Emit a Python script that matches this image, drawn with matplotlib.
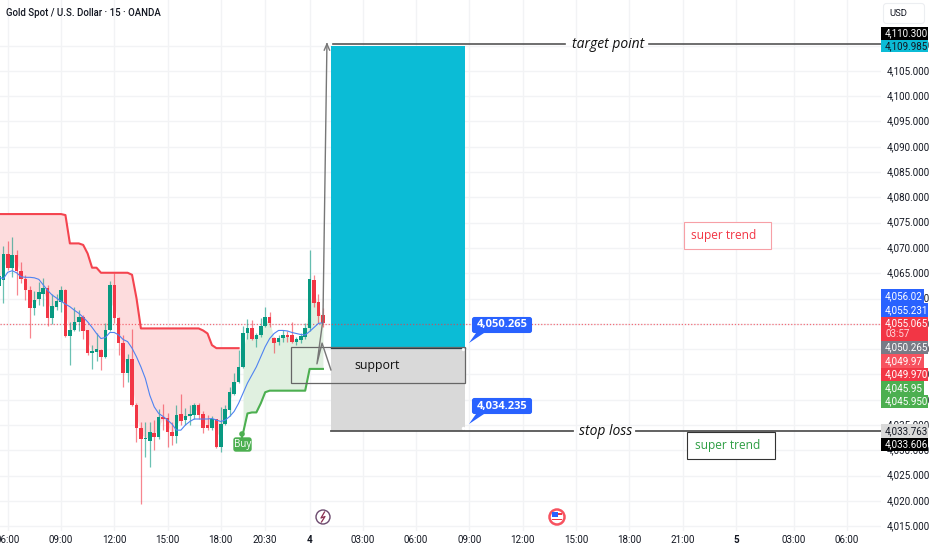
import matplotlib
matplotlib.use('Agg')
import matplotlib.pyplot as plt
from matplotlib.patches import Rectangle, FancyBboxPatch, Polygon, Circle
from matplotlib.transforms import ScaledTranslation

plt.rcParams['font.family'] = ['Open Sans', 'DejaVu Sans']
SCALE_FONT = ['Roboto', 'DejaVu Sans']

# Candles, 15 minute bars (first one is cut by the left edge)
opens = [4062.5, 4063.7, 4068.9, 4066.0, 4068.7, 4065.5, 4063.9, 4061.7, 4058.1, 4059.9, 4061.0,
         4062.0, 4056.2, 4058.4, 4059.4, 4061.7, 4052.6, 4053.7, 4055.4, 4056.4, 4053.7,
         4049.3, 4049.5, 4049.9, 4048.5, 4053.7, 4062.6, 4056.1, 4051.2, 4045.2, 4048.0,
         4039.0, 4034.4, 4032.3, 4031.9, 4033.4, 4032.7, 4036.5, 4036.4, 4033.7, 4032.9,
         4037.2, 4036.1, 4036.7, 4037.0, 4039.0, 4037.2, 4035.0, 4034.5, 4036.2, 4030.6,
         4035.2, 4038.0, 4041.1, 4043.6, 4046.4, 4053.1, 4054.1, 4052.1, 4052.8, 4054.6,
         4056.3, 4052.3, 4051.4, 4052.3, 4052.8, 4052.8, 4051.5, 4051.8, 4052.5, 4054.1,
         4063.7, 4059.3, 4056.7]
highs = [4067.0, 4070.3, 4071.3, 4072.2, 4069.6, 4067.2, 4064.7, 4062.5, 4061.4, 4063.3, 4064.0,
         4062.7, 4061.0, 4061.0, 4062.4, 4061.8, 4055.4, 4058.3, 4057.7, 4056.8, 4053.8,
         4050.8, 4053.1, 4050.0, 4055.2, 4063.5, 4065.0, 4056.4, 4052.8, 4049.1, 4053.9,
         4039.3, 4035.7, 4035.7, 4035.7, 4036.0, 4038.1, 4039.2, 4037.3, 4035.7, 4039.0,
         4041.1, 4038.3, 4039.0, 4039.3, 4039.3, 4037.7, 4037.0, 4036.7, 4036.3, 4038.6,
         4039.0, 4042.6, 4045.2, 4049.8, 4054.5, 4055.9, 4055.8, 4053.1, 4056.1, 4058.4,
         4057.4, 4052.5, 4052.8, 4053.7, 4053.5, 4055.4, 4052.5, 4053.1, 4055.1, 4069.6,
         4064.7, 4061.0, 4058.1]
lows = [4060.5, 4059.1, 4065.7, 4064.3, 4060.7, 4063.0, 4059.7, 4052.3, 4056.8, 4058.7, 4058.5,
        4054.5, 4055.0, 4057.7, 4057.4, 4052.5, 4046.9, 4053.5, 4053.5, 4052.0, 4048.9,
        4046.0, 4047.7, 4045.8, 4048.2, 4053.5, 4055.1, 4048.9, 4042.6, 4043.6, 4038.8,
        4031.7, 4019.5, 4028.6, 4026.8, 4030.1, 4032.2, 4034.0, 4030.6, 4031.1, 4031.4,
        4035.0, 4035.0, 4035.0, 4036.3, 4036.3, 4033.4, 4034.0, 4034.0, 4030.4, 4029.7,
        4035.0, 4036.7, 4040.9, 4043.3, 4046.2, 4052.1, 4051.8, 4050.5, 4052.5, 4054.3,
        4054.3, 4049.2, 4050.8, 4051.5, 4051.5, 4051.2, 4050.8, 4051.2, 4052.1, 4053.5,
        4058.4, 4055.1, 4054.3]
closes = [4064.5, 4068.9, 4066.1, 4068.7, 4065.5, 4063.9, 4061.6, 4058.1, 4059.7, 4061.2, 4062.0,
          4056.2, 4058.5, 4059.5, 4061.7, 4052.6, 4053.7, 4055.4, 4056.4, 4053.6, 4049.3,
          4049.6, 4050.1, 4048.5, 4053.7, 4062.6, 4056.1, 4051.2, 4045.2, 4048.0, 4039.0,
          4034.4, 4032.3, 4032.5, 4033.6, 4032.7, 4036.5, 4036.3, 4033.6, 4032.8, 4037.0,
          4035.8, 4036.7, 4037.2, 4039.0, 4037.0, 4034.4, 4034.4, 4036.2, 4030.6, 4035.3,
          4038.1, 4041.6, 4043.6, 4046.4, 4053.1, 4054.1, 4052.1, 4052.8, 4054.6, 4056.4,
          4055.1, 4051.3, 4052.3, 4052.8, 4052.4, 4051.5, 4052.0, 4052.6, 4054.1, 4063.9,
          4059.2, 4056.6, 4055.1]

# Super trend, red part then green part
trend_down = [4076.7, 4076.7, 4076.7, 4076.7, 4076.7, 4076.7, 4076.7, 4076.7, 4076.7, 4076.7, 4076.7,
              4076.7, 4076.7, 4076.7, 4076.7, 4076.5, 4070.9, 4070.9, 4070.9, 4070.6, 4068.9,
              4066.1, 4066.1, 4065.1, 4065.1, 4065.1, 4065.1, 4065.1, 4065.1, 4065.1, 4064.7,
              4060.1, 4054.1, 4054.1, 4054.1, 4054.1, 4054.1, 4054.1, 4054.1, 4054.1, 4054.1,
              4054.1, 4054.1, 4054.1, 4054.1, 4054.1, 4053.7, 4053.1, 4050.8, 4050.2, 4050.2,
              4050.2, 4050.2, 4050.2, 4050.2]
trend_up = [4033.4, 4037.3, 4037.5, 4037.5, 4039.3, 4041.5, 4041.8, 4041.8, 4041.8, 4041.8,
            4041.8, 4041.8, 4041.8, 4041.8, 4041.8, 4046.1, 4046.1, 4046.1, 4046.1]

# Blue moving average
ma_line = [4064.3, 4063.9, 4065.2, 4065.5, 4065.1, 4064.3, 4064.2, 4064.2, 4064.1, 4063.8, 4062.7,
           4061.6, 4060.7, 4060.1, 4059.5, 4058.9, 4058.4, 4057.7, 4057.1, 4056.3, 4055.4,
           4054.3, 4053.1, 4052.1, 4052.3, 4053.3, 4053.3, 4052.8, 4051.9, 4051.5, 4050.2,
           4048.5, 4046.5, 4044.2, 4040.9, 4038.6, 4037.3, 4036.7, 4036.0, 4035.2, 4034.0,
           4034.0, 4035.0, 4035.7, 4036.2, 4036.2, 4036.2, 4036.2, 4036.3, 4036.0, 4035.7,
           4036.0, 4036.7, 4037.7, 4039.3, 4041.3, 4043.3, 4044.9, 4046.5, 4048.5, 4050.5,
           4052.1, 4053.1, 4053.7, 4053.7, 4053.6, 4053.3, 4053.1, 4052.9, 4052.8, 4053.5,
           4054.3, 4055.1, 4055.2]

# Axes labels
price_ticks = [4015, 4020, 4025, 4030, 4035, 4040, 4045, 4050, 4055, 4060, 4065, 4070,
               4075, 4080, 4085, 4090, 4095, 4100, 4105, 4110]
time_idx = [1, 13, 25, 37, 49, 59, 69, 81, 93, 105, 117, 129, 141, 153, 165, 178, 190]
time_labels = ['06:00', '09:00', '12:00', '15:00', '18:00', '20:30', '4', '03:00', '06:00',
               '09:00', '12:00', '15:00', '18:00', '21:00', '5', '03:00', '06:00']

# Trade levels
last_price = 4055.065
target = 4109.985
entry = 4050.265
stop = 4033.763
top_line = 4110.3

UP = '#089981'
DOWN = '#f23645'
CYAN = '#0bbcd6'
LINE = '#555555'

fig = plt.figure(figsize=(9.32, 5.5), dpi=100)
ax = fig.add_axes([0, 19 / 550, 881 / 932, 531 / 550])
ax.set_xlim(-0.74, 197.7)
ax.set_ylim(4014.07, 4119.0)
for s in ax.spines.values():
    s.set_visible(False)

ax.yaxis.tick_right()
ax.set_yticks(price_ticks)
ax.set_yticklabels([f'{p:,.3f}' for p in price_ticks], fontsize=7.1, color='#131722',
                   family=SCALE_FONT, va='center')
ax.set_xticks(time_idx)
ax.set_xticklabels(time_labels, fontsize=7.1, color='#131722', family=SCALE_FONT)
for lab in ax.get_xticklabels():
    if lab.get_text() in ('4', '5'):
        lab.set_fontweight('bold')
# price labels sit a little above their grid lines
lift = ScaledTranslation(0, 2 / 100, fig.dpi_scale_trans)
for lab in ax.get_yticklabels():
    lab.set_transform(lab.get_transform() + lift)
ax.tick_params(length=0, pad=3)
ax.tick_params(axis='y', pad=4)
ax.grid(True, color='#f2f3f5', lw=1)
ax.set_axisbelow(True)

bars = list(range(-1, len(opens) - 1))
mids = [(o + c) / 2 for o, c in zip(opens, closes)]

# Super trend bands
down_x = bars[:len(trend_down)]
up_x = bars[len(trend_down):]
ax.fill_between(down_x, trend_down, mids[:len(trend_down)], color='#fddcdd', lw=0, zorder=1)
ax.fill_between(up_x, trend_up, mids[len(trend_down):], color='#e0f0e0', lw=0, zorder=1)
ax.plot(down_x, trend_down, color='#f4444f', lw=1.5, zorder=2)
ax.plot(up_x, trend_up, color='#4caf50', lw=1.5, zorder=2)

# Trade boxes
ax.add_patch(Rectangle((73.8, entry), 30.2, target - entry, color=CYAN, lw=0, zorder=2))
ax.add_patch(Rectangle((73.8, stop), 30.2, entry - stop, color='#d9d9d9', lw=0, zorder=2))
ax.plot([73.8, 104], [entry, entry], color='#2b3a42', lw=0.9, zorder=3)
ax.scatter([103.6, 103.6], [entry - 0.3, stop + 0.6], s=6, color='white', lw=0, zorder=3)

# Candles
for i, o, h, l, c in zip(bars, opens, highs, lows, closes):
    col = UP if c >= o else DOWN
    ax.vlines(i, l, h, color=col, lw=0.9, alpha=0.6, zorder=4)
    ax.bar(i, abs(c - o), bottom=min(o, c), width=0.8, color=col, lw=0, zorder=5)
ax.plot(bars, ma_line, color='#4f83f1', lw=0.8, zorder=6)

ax.axhline(last_price, color='#f23645', lw=0.9, ls=(0, (1, 1.5)), alpha=0.7, zorder=3)

# Support box and drawn lines
ax.add_patch(Rectangle((64.9, 4043.4), 39, 7.1, fill=False, ec='#666666', lw=0.9, zorder=7))
ax.plot([73.8, 71.8, 70.65, 72, 72.9], [4045.9, 4051.2, 4047.1, 4055.8, top_line],
        color='#777777', lw=1, zorder=7)
ax.plot([72.9, 72.3], [top_line, top_line - 1.2], color='#777777', lw=1, zorder=7)
ax.plot([72.9, 73.5], [top_line, top_line - 1.2], color='#777777', lw=1, zorder=7)
ax.plot([74.3, 126.5], [top_line, top_line], color=LINE, lw=1.2, zorder=7)
ax.plot([145.5, 198], [top_line, top_line], color=LINE, lw=1.2, zorder=7)
ax.plot([73.8, 128.4], [stop, stop], color=LINE, lw=1.3, zorder=7)
ax.plot([142.5, 198], [stop, stop], color=LINE, lw=1.3, zorder=7)

# Overlay in picture pixels for tags and labels
ov = fig.add_axes([0, 0, 1, 1])
ov.set_xlim(0, 932)
ov.set_ylim(550, 0)
ov.axis('off')
ov.patch.set_alpha(0)

ov.text(6, 13, 'Gold Spot / U.S. Dollar · 15 · OANDA', fontsize=6.9, fontweight='medium',
        color='#131722', va='center', family=SCALE_FONT)
ov.text(608, 44, 'target point', fontsize=10, style='italic', color='#111111', ha='center', va='center')
ov.text(606, 431.5, 'stop loss', fontsize=10, style='italic', color='#111111', ha='center', va='center')
ov.text(377, 365, 'support', fontsize=8.9, color='#111111', ha='center', va='center')

ov.add_patch(Rectangle((683.5, 221.5), 87, 27, fc='white', ec='#f7a0a6', lw=0.8))
ov.text(724, 235, 'super trend', fontsize=8.6, color='#f23645', ha='center', va='center')
ov.add_patch(Rectangle((686.5, 431.5), 88, 27, fc='white', ec='#333333', lw=0.8))
ov.text(728, 445, 'super trend', fontsize=8.6, color='#2e9e44', ha='center', va='center')


def blue_tag(y, label):
    ov.add_patch(Polygon([[469, y + 26], [476, y + 16], [484, y + 16]], color='#2962ff', lw=0))
    ov.add_patch(FancyBboxPatch((473, y + 1), 58, 14, boxstyle='round,pad=0,rounding_size=1.5',
                                fc='#2962ff', ec='#2962ff', lw=1.5))
    ov.text(502, y + 8, label, fontsize=8, fontweight='bold', color='white', ha='center', va='center')


blue_tag(317, '4,050.265')
blue_tag(398, '4,034.235')

# Buy marker
ov.plot([242, 242], [434, 438], color='#4caf50', lw=1.5)
ov.add_patch(Circle((242, 434), 2.8, color='#4caf50', lw=0))
ov.add_patch(FancyBboxPatch((234, 438), 17, 13, boxstyle='round,pad=0,rounding_size=2',
                            fc='#4caf50', ec='#4caf50', lw=1))
ov.text(242.5, 444.5, 'Buy', fontsize=7, color='white', ha='center', va='center')

# Price scale tags: top, bottom, right edge, fill, text colour
scale_tags = [
    (27, 39.5, 928, '#000000', '4,110.300', 'white'),
    (39.5, 52, 928, CYAN, '4,109.985', '#131722'),
    (289, 303, 924, '#2962ff', '4,056.02', 'white'),
    (303, 317, 928, '#2962ff', '4,055.231', 'white'),
    (341, 354, 928, '#787b86', '4,050.265', 'white'),
    (354, 368, 924, '#f7525f', '4,049.97', 'white'),
    (368, 381, 928, '#f23645', '4,049.970', 'white'),
    (381, 395, 924, '#4caf50', '4,045.95', 'white'),
    (395, 408, 928, '#4caf50', '4,045.950', 'white'),
    (424, 438, 928, '#d9d9d9', '4,033.763', '#131722'),
    (438, 451, 928, '#000000', '4,033.606', 'white'),
]
for top, bottom, right, fc, label, tc in scale_tags:
    ov.add_patch(Rectangle((881, top), right - 881, bottom - top, color=fc, lw=0))
    ov.text(885, (top + bottom) / 2, label, fontsize=7.1, color=tc, va='center', family=SCALE_FONT)

ov.add_patch(Rectangle((881, 317), 47, 24, color='#f23645', lw=0))
ov.text(885, 323.5, '4,055.065', fontsize=7.1, color='white', va='center', family=SCALE_FONT)
ov.text(885, 334, '03:57', fontsize=7.1, color='#ffd5d8', va='center', family=SCALE_FONT)

ov.add_patch(FancyBboxPatch((883.5, 3.5), 41, 20, boxstyle='round,pad=0,rounding_size=3',
                            fc='white', ec='#eceef1', lw=0.8))
ov.text(889, 14, 'USD', fontsize=6.8, color='#131722', va='center', family=SCALE_FONT)

# Event icons on the time axis
ov.add_patch(Circle((323, 517), 7, fc='white', ec='#6b4a6e', lw=1))
ov.plot([324.5, 321, 325, 321.5], [512, 518, 516.5, 522], color='#8b2f52', lw=0.9)
ov.add_patch(Circle((557, 517), 7.5, fc='white', ec='#f7525f', lw=1.8))
ov.add_patch(Rectangle((552, 511.5), 6, 5.5, color='#2962ff', lw=0))
ov.add_patch(Rectangle((558, 513), 4, 1.5, color='#f23645', lw=0))
ov.add_patch(Rectangle((552, 518.5), 10, 1.8, color='#f23645', lw=0))

fig.savefig('out.png', dpi=100)
